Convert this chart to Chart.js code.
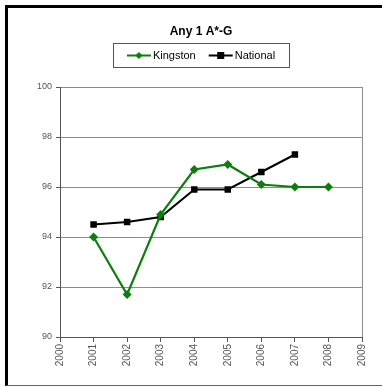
<!DOCTYPE html>
<html>
<head>
<meta charset="utf-8">
<script src="https://cdn.jsdelivr.net/npm/chart.js@4/dist/chart.umd.min.js"></script>
<style>
  html, body { margin:0; padding:0; background:#fff; overflow:hidden; width:382px; height:387px; }
  #frame { position:absolute; left:5px; top:5px; width:400px; height:377px;
           border-left:3px solid #000; border-top:3px solid #000; border-bottom:1px solid #666; }
  #c { position:absolute; left:0; top:0; }
</style>
</head>
<body>
<div id="frame"></div>
<canvas id="c" width="382" height="387"></canvas>
<script>
const chartTitle = 'Any 1 A*-G';
const years = [2001, 2002, 2003, 2004, 2005, 2006, 2007, 2008];
const kingston = [94.0, 91.7, 94.9, 96.7, 96.9, 96.1, 96.0, 96.0];
const national = [94.5, 94.6, 94.8, 95.9, 95.9, 96.6, 97.3, null];
const seriesNames = ['Kingston', 'National'];
const xMin = 2000, xMax = 2009;
const yMin = 90, yMax = 100, yStep = 2;

const FONT = '"Liberation Sans", Arial, sans-serif';
const GREEN = '#0a800a';
const GRID = '#8c8c8c';

function pts(arr) { return years.map((y, i) => ({ x: y, y: arr[i] })); }

const overlay = {
  id: 'overlay',
  afterDraw(chart) {
    const ctx = chart.ctx;
    ctx.save();
    // title
    ctx.fillStyle = '#000';
    ctx.font = 'bold 12px ' + FONT;
    ctx.textAlign = 'center';
    ctx.textBaseline = 'middle';
    ctx.fillText(chartTitle, 201, 32);
    // legend box
    ctx.strokeStyle = '#555';
    ctx.lineWidth = 1;
    ctx.strokeRect(113.5, 43.5, 176, 24);
    ctx.font = '11px ' + FONT;
    ctx.textAlign = 'left';
    const lineLen = 24, gapT = 2, gapItem = 13;
    const items = chart.data.datasets.map(ds => ({ ds, w: ctx.measureText(ds.label).width }));
    let total = items.reduce((s, it) => s + lineLen + gapT + it.w, 0) + gapItem * (items.length - 1);
    let x = 201 - total / 2;
    const y = 55.5;
    items.forEach(it => {
      const ds = it.ds;
      ctx.strokeStyle = ds.borderColor;
      ctx.lineWidth = 2;
      ctx.beginPath(); ctx.moveTo(x, y); ctx.lineTo(x + lineLen, y); ctx.stroke();
      const cx = x + lineLen / 2;
      ctx.fillStyle = ds.pointBackgroundColor;
      ctx.beginPath();
      if (ds.pointStyle === 'rectRot') {
        const r = 3.5;
        ctx.moveTo(cx, y - r); ctx.lineTo(cx + r, y); ctx.lineTo(cx, y + r); ctx.lineTo(cx - r, y); ctx.closePath();
      } else {
        ctx.rect(cx - 3.5, y - 3.5, 7, 7);
      }
      ctx.fill();
      ctx.fillStyle = '#000';
      ctx.fillText(ds.label, x + lineLen + gapT, y + 0.5);
      x += lineLen + gapT + it.w + gapItem;
    });
    ctx.restore();
  }
};

new Chart(document.getElementById('c'), {
  type: 'line',
  data: {
    datasets: [
      { label: seriesNames[0], data: pts(kingston), borderColor: GREEN, backgroundColor: GREEN,
        pointBackgroundColor: GREEN, pointBorderColor: GREEN, pointStyle: 'rectRot', pointRadius: 4.5,
        pointBorderWidth: 0, borderWidth: 2.2, tension: 0, spanGaps: false },
      { label: seriesNames[1], data: pts(national), borderColor: '#000', backgroundColor: '#000',
        pointBackgroundColor: '#000', pointBorderColor: '#000', pointStyle: 'rect', pointRadius: 4.6,
        pointBorderWidth: 0, borderWidth: 2, tension: 0, spanGaps: false }
    ]
  },
  options: {
    responsive: false,
    animation: false,
    events: [],
    layout: { padding: { top: 87, left: 10, right: 20, bottom: 10 } },
    plugins: { legend: { display: false }, title: { display: false }, tooltip: { enabled: false } },
    scales: {
      x: {
        type: 'linear', min: xMin, max: xMax,
        afterFit(s) { s.height = 40; },
        ticks: { stepSize: 1, autoSkip: false, maxRotation: 90, minRotation: 90, padding: 2,
                 color: '#555', font: { family: FONT, size: 10 }, callback: v => String(v) },
        grid: { color: c => (c.tick && c.tick.value === xMax) ? GRID : 'rgba(0,0,0,0)',
                tickColor: '#555', tickLength: 5, lineWidth: 1 },
        border: { color: '#555', width: 1 }
      },
      y: {
        min: yMin, max: yMax,
        afterFit(s) { s.width = 50; },
        ticks: { stepSize: yStep, padding: 4, color: '#555', font: { family: FONT, size: 9 } },
        grid: { color: GRID, tickColor: '#555', tickLength: 4, lineWidth: 1 },
        border: { color: '#555', width: 1 }
      }
    }
  },
  plugins: [overlay]
});
</script>
</body>
</html>
